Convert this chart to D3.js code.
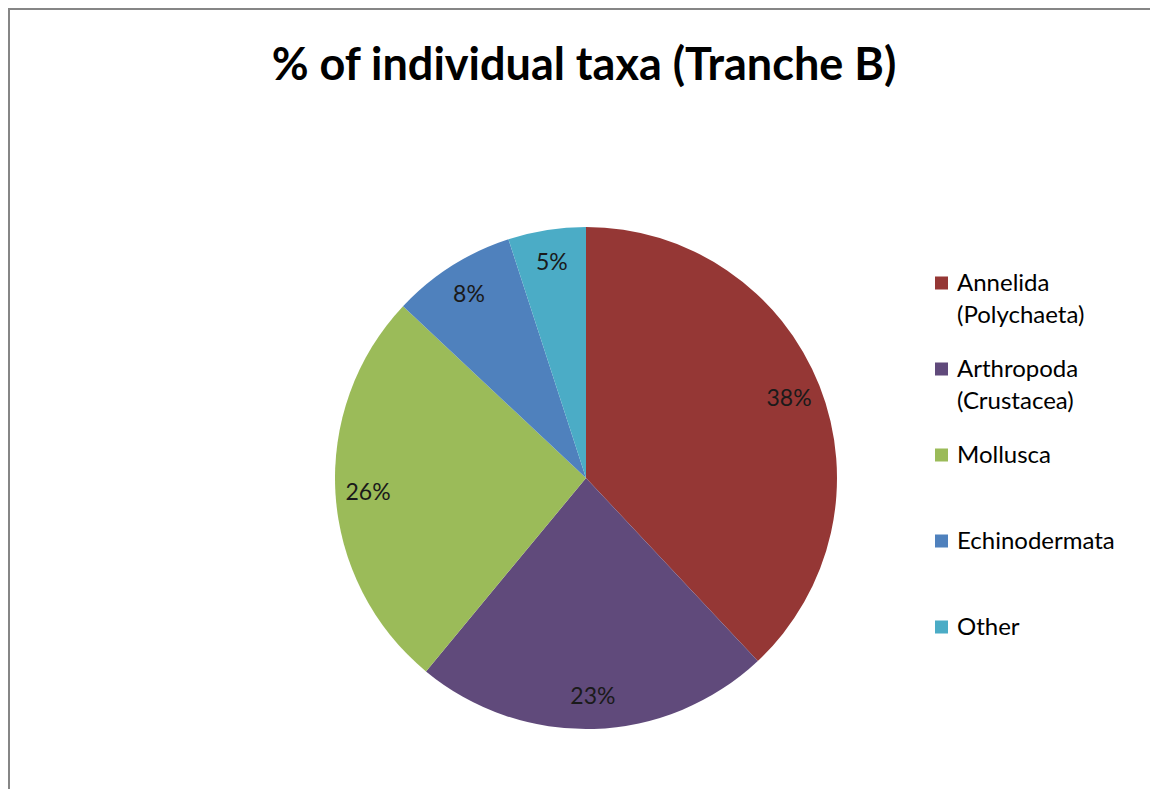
<!DOCTYPE html>
<html>
<head>
<meta charset="utf-8">
<script src="https://cdn.jsdelivr.net/npm/d3@7"></script>
<style>
  body { margin: 0; background: #fff; }
  svg { display: block; font-family: Lato, "Open Sans", sans-serif; }
</style>
</head>
<body>
<svg id="chart"></svg>
<script>
// data
const taxa = ["Annelida (Polychaeta)", "Arthropoda (Crustacea)", "Mollusca", "Echinodermata", "Other"];
const legendLines = [["Annelida", "(Polychaeta)"], ["Arthropoda", "(Crustacea)"], ["Mollusca"], ["Echinodermata"], ["Other"]];
const shares = [38, 23, 26, 8, 5];
const colours = ["#953735", "#604A7B", "#9BBB59", "#4F81BD", "#4BACC6"];

const width = 1150, height = 789;
const cx = 586, cy = 478, radius = 251;

const svg = d3.select("#chart").attr("width", width).attr("height", height);

// chart frame
svg.append("rect")
  .attr("x", 9).attr("y", 9)
  .attr("width", width + 20).attr("height", height + 20)
  .attr("fill", "none")
  .attr("stroke", "#868686")
  .attr("stroke-width", 2);

svg.append("text")
  .attr("x", 584).attr("y", 80)
  .attr("text-anchor", "middle")
  .attr("font-weight", "bold")
  .attr("font-size", 45)
  .attr("fill", "#000")
  .text("% of individual taxa (Tranche B)");

const pie = d3.pie().sort(null).value(d => d);
const arcs = pie(shares);

const arc = d3.arc().innerRadius(0).outerRadius(radius);
const labelArc = d3.arc().innerRadius(radius * 0.87).outerRadius(radius * 0.87);

const g = svg.append("g").attr("transform", `translate(${cx},${cy})`);

g.selectAll(".slice")
  .data(arcs)
  .join("path")
  .attr("class", "slice")
  .attr("d", arc)
  .attr("fill", (d, i) => colours[i]);

g.selectAll(".pct")
  .data(arcs)
  .join("text")
  .attr("class", "pct")
  .attr("transform", d => `translate(${labelArc.centroid(d)})`)
  .attr("text-anchor", "middle")
  .attr("dy", "0.35em")
  .attr("font-size", 23)
  .attr("fill", "#1a1a1a")
  .text(d => d.value + "%");

// legend
const legendY = d3.scalePoint().domain(taxa).range([283, 627]);

const items = svg.selectAll(".legend")
  .data(taxa)
  .join("g")
  .attr("class", "legend")
  .attr("transform", d => `translate(935,${legendY(d)})`);

items.append("rect")
  .attr("x", 0).attr("y", -6.5)
  .attr("width", 13).attr("height", 13)
  .attr("fill", (d, i) => colours[i]);

items.append("text")
  .attr("font-size", 24)
  .attr("fill", "#000")
  .selectAll("tspan")
  .data((d, i) => legendLines[i])
  .join("tspan")
  .attr("x", 22)
  .attr("y", (d, j) => 8 + j * 32)
  .text(d => d);
</script>
</body>
</html>
